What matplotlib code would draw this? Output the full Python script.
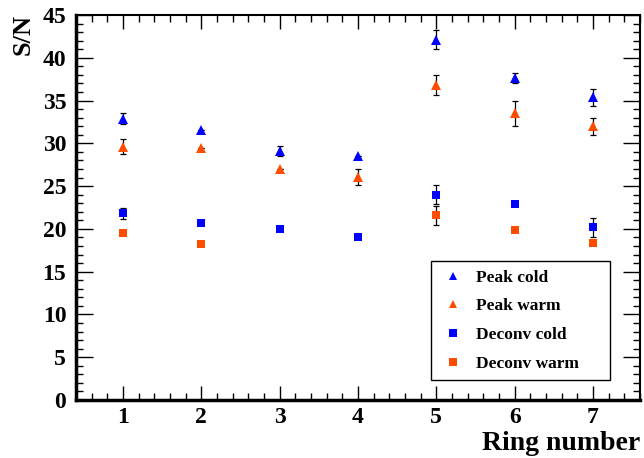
import numpy as np
import matplotlib
matplotlib.use("Agg")
import matplotlib.pyplot as plt
from matplotlib.ticker import MultipleLocator

rings = [1, 2, 3, 4, 5, 6, 7]
peak_cold = [32.9, 31.6, 29.1, 28.5, 42.1, 37.6, 35.4]
peak_cold_err = [0.6, 0.0, 0.6, 0.0, 1.1, 0.6, 1.0]
peak_warm = [29.6, 29.5, 27.0, 26.1, 36.8, 33.5, 32.0]
peak_warm_err = [0.9, 0.0, 0.0, 0.95, 1.2, 1.5, 1.0]
deconv_cold = [21.8, 20.65, 19.95, 19.1, 24.0, 22.9, 20.2]
deconv_cold_err = [0.6, 0.0, 0.0, 0.0, 1.1, 0.0, 1.1]
deconv_warm = [19.5, 18.2, np.nan, np.nan, 21.6, 19.9, 18.4]
deconv_warm_err = [0.0, 0.0, 0.0, 0.0, 1.1, 0.0, 0.0]
labels = ["Peak cold", "Peak warm", "Deconv cold", "Deconv warm"]

BLUE = "#0000ff"
ORANGE = "#ff4d00"

plt.rcParams['font.family'] = ['Liberation Serif', 'DejaVu Serif']
plt.rcParams['font.weight'] = 'bold'

fig = plt.figure(figsize=(6.44, 4.58), dpi=100)
ax = fig.add_axes([76/644, 58/458, 564/644, 385/458])

series = [
    (peak_cold, peak_cold_err, BLUE, '^', 6.5),
    (peak_warm, peak_warm_err, ORANGE, '^', 6.5),
    (deconv_cold, deconv_cold_err, BLUE, 's', 6.3),
    (deconv_warm, deconv_warm_err, ORANGE, 's', 6.3),
]
handles = []
for (vals, errs, col, mk, ms), lab in zip(series, labels):
    ax.errorbar(rings, vals, yerr=errs, fmt='none', ecolor='black',
                elinewidth=0.9, capsize=2, capthick=0.9, zorder=2)
    h = ax.plot(rings, vals, linestyle='none', marker=mk, ms=ms,
                color=col, markeredgewidth=0, zorder=3, label=lab)[0]
    handles.append(h)

ax.set_xlim(0.4, 7.6)
ax.set_ylim(0, 45)
ax.xaxis.set_major_locator(MultipleLocator(1))
ax.xaxis.set_minor_locator(MultipleLocator(0.2))
ax.yaxis.set_major_locator(MultipleLocator(5))
ax.yaxis.set_minor_locator(MultipleLocator(1))
ax.tick_params(which='both', direction='in', top=True, right=True,
               labelsize=17, color='black')
ax.tick_params(which='major', length=10, width=1.0)
ax.tick_params(axis='x', which='major', pad=5)
ax.tick_params(which='minor', length=5, width=1.0)
ax.tick_params(axis='y', which='major', length=12, pad=7)
for lbl in ax.get_xticklabels() + ax.get_yticklabels():
    lbl.set_fontweight('bold')
for sp in ax.spines.values():
    sp.set_linewidth(1.5)
ax.spines['bottom'].set_linewidth(2.5)
ax.spines['left'].set_linewidth(2.5)

fig.text(640/644, 1 - 444/458, "Ring number", ha='right', va='center',
         fontsize=20, fontweight='bold')
fig.text(23/644, 1 - 14/458, "S/N", ha='center', va='top', rotation=90,
         fontsize=19, fontweight='bold')

leg = ax.legend(handles=handles, loc='upper left',
                bbox_to_anchor=((431-76)/564, (400-380)/385, (610-431)/564, (380-261)/385),
                mode='expand',
                frameon=True, fancybox=False, edgecolor='black', framealpha=1,
                prop={'family': 'Liberation Serif', 'weight': 'bold', 'size': 12.5},
                handlelength=1.5, handletextpad=0.6, labelspacing=0.72,
                borderpad=0.5, borderaxespad=0, markerscale=0.85)
leg.get_frame().set_linewidth(1.0)

fig.savefig("out.png", dpi=100)
